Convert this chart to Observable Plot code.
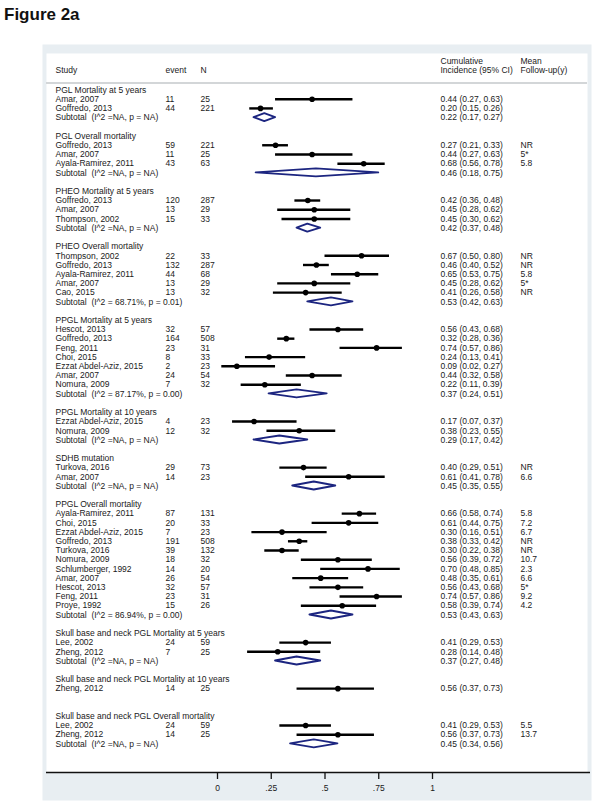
<!DOCTYPE html>
<html>
<head>
<meta charset="utf-8">
<script src="https://cdn.jsdelivr.net/npm/d3@7"></script>
<script src="https://cdn.jsdelivr.net/npm/@observablehq/plot@0.6"></script>
<style>
  html, body { margin: 0; padding: 0; background: #fff; }
  #title { font-family: Arial, "Liberation Sans", sans-serif; font-weight: bold; font-size: 17px; height: 30px; line-height: 30px; padding-left: 4px; color: #111; }
  #chart svg { display: block; }
</style>
</head>
<body>
<div id="title">Figure 2a</div>
<div id="chart"></div>
<script>
// ---------- data ----------
const groupTitles = [
  "PGL Mortality at 5 years",
  "PGL Overall mortality",
  "PHEO Mortality at 5 years",
  "PHEO Overall mortality",
  "PPGL Mortality at 5 years",
  "PPGL Mortality at 10 years",
  "SDHB mutation",
  "PPGL Overall mortality",
  "Skull base and neck PGL Mortality at 5 years",
  "Skull base and neck PGL Mortality at 10 years",
  "Skull base and neck PGL Overall mortality"
];
const studyGroup = [0,0, 1,1,1, 2,2,2, 3,3,3,3,3, 4,4,4,4,4,4,4, 5,5, 6,6, 7,7,7,7,7,7,7,7,7,7,7, 8,8, 9, 10,10];
const studyNames = [
  "Amar, 2007","Goffredo, 2013",
  "Goffredo, 2013","Amar, 2007","Ayala-Ramirez, 2011",
  "Goffredo, 2013","Amar, 2007","Thompson, 2002",
  "Thompson, 2002","Goffredo, 2013","Ayala-Ramirez, 2011","Amar, 2007","Cao, 2015",
  "Hescot, 2013","Goffredo, 2013","Feng, 2011","Choi, 2015","Ezzat Abdel-Aziz, 2015","Amar, 2007","Nomura, 2009",
  "Ezzat Abdel-Aziz, 2015","Nomura, 2009",
  "Turkova, 2016","Amar, 2007",
  "Ayala-Ramirez, 2011","Choi, 2015","Ezzat Abdel-Aziz, 2015","Goffredo, 2013","Turkova, 2016","Nomura, 2009","Schlumberger, 1992","Amar, 2007","Hescot, 2013","Feng, 2011","Proye, 1992",
  "Lee, 2002","Zheng, 2012",
  "Zheng, 2012",
  "Lee, 2002","Zheng, 2012"
];
const events = [11,44, 59,11,43, 120,13,15, 22,132,44,13,13, 32,164,23,8,2,24,7, 4,12, 29,14, 87,20,7,191,39,18,14,26,32,23,15, 24,7, 14, 24,14];
const totals = [25,221, 221,25,63, 287,29,33, 33,287,68,29,32, 57,508,31,33,23,54,32, 23,32, 73,23, 131,33,23,508,132,32,20,54,57,31,26, 59,25, 25, 59,25];
const estimates = [0.44,0.20, 0.27,0.44,0.68, 0.42,0.45,0.45, 0.67,0.46,0.65,0.45,0.41, 0.56,0.32,0.74,0.24,0.09,0.44,0.22, 0.17,0.38, 0.40,0.61, 0.66,0.61,0.30,0.38,0.30,0.56,0.70,0.48,0.56,0.74,0.58, 0.41,0.28, 0.56, 0.41,0.56];
const lowers = [0.27,0.15, 0.21,0.27,0.56, 0.36,0.28,0.30, 0.50,0.40,0.53,0.28,0.26, 0.43,0.28,0.57,0.13,0.02,0.32,0.11, 0.07,0.23, 0.29,0.41, 0.58,0.44,0.16,0.33,0.22,0.39,0.48,0.35,0.43,0.57,0.39, 0.29,0.14, 0.37, 0.29,0.37];
const uppers = [0.63,0.26, 0.33,0.63,0.78, 0.48,0.62,0.62, 0.80,0.52,0.75,0.62,0.58, 0.68,0.36,0.86,0.41,0.27,0.58,0.39, 0.37,0.55, 0.51,0.78, 0.74,0.75,0.51,0.42,0.38,0.72,0.85,0.61,0.68,0.86,0.74, 0.53,0.48, 0.73, 0.53,0.73];
const followUps = ["","", "NR","5*","5.8", "","","", "NR","NR","5.8","5*","NR", "","","","","","","", "","", "NR","6.6", "5.8","7.2","6.7","NR","NR","10.7","2.3","6.6","5*","9.2","4.2", "","", "", "5.5","13.7"];

const subtotalGroup = [0,1,2,3,4,5,6,7,8,10];
const subtotalHet = ["I^2 =NA, p = NA","I^2 =NA, p = NA","I^2 =NA, p = NA","I^2 = 68.71%, p = 0.01","I^2 = 87.17%, p = 0.00","I^2 =NA, p = NA","I^2 =NA, p = NA","I^2 = 86.94%, p = 0.00","I^2 =NA, p = NA","I^2 =NA, p = NA"];
const subtotalEst = [0.22,0.46,0.42,0.53,0.37,0.29,0.45,0.53,0.37,0.45];
const subtotalLo = [0.17,0.18,0.37,0.42,0.24,0.17,0.35,0.43,0.27,0.34];
const subtotalHi = [0.27,0.75,0.48,0.63,0.51,0.42,0.55,0.63,0.48,0.56];

const axisTicks = [0, 0.25, 0.5, 0.75, 1];
const axisTickLabels = ["0", ".25", ".5", ".75", "1"];

// ---------- layout (rows) ----------
const W = 604, H = 780;
const ROW0 = 59.5, PITCH = 9.21;
const rowOf = px => (px - ROW0) / PITCH;

let r = 0;
const groupRow = [], subRowOfGroup = [];
const studyRow = [];
groupTitles.forEach((g, gi) => {
  groupRow.push(r); r++;
  studyGroup.forEach((sg, si) => { if (sg === gi) { studyRow[si] = r; r++; } });
  subRowOfGroup[gi] = r; r++;
  r++;
});

const fmt = v => v.toFixed(2);
const studies = studyNames.map((name, i) => ({
  name, event: String(events[i]), n: String(totals[i]),
  est: estimates[i], lo: lowers[i], hi: uppers[i],
  ci: `${fmt(estimates[i])} (${fmt(lowers[i])}, ${fmt(uppers[i])})`,
  fu: followUps[i], row: studyRow[i]
}));
const groupsData = groupTitles.map((t, i) => ({t, row: groupRow[i]}));
const subtotals = subtotalGroup.map((g, i) => ({
  label: "Subtotal\u00a0\u00a0(" + subtotalHet[i] + ")",
  est: subtotalEst[i], lo: subtotalLo[i], hi: subtotalHi[i],
  ci: `${fmt(subtotalEst[i])} (${fmt(subtotalLo[i])}, ${fmt(subtotalHi[i])})`,
  row: subRowOfGroup[g]
}));
const HALF = 4 / PITCH;
const diamondPts = subtotals.flatMap((s, i) => [
  {k: i, y: s.row - HALF, x1: s.est, x2: s.est},
  {k: i, y: s.row, x1: s.lo, x2: s.hi},
  {k: i, y: s.row + HALF, x1: s.est, x2: s.est}
]);

const headerLineRow = rowOf(52.5);
const axisRow = rowOf(742);
const tickEndRow = rowOf(749);
const tickLabelRow = rowOf(758);
const head1 = rowOf(31), head2 = rowOf(40);

const FONT = 8.5;
const txt = "#1a1a1a";
const col = (data, opts) => Plot.text(data, {frameAnchor: "left", textAnchor: "start", fontSize: FONT, fill: txt, ...opts});

const chart = Plot.plot({
  width: W, height: H,
  marginLeft: 0, marginRight: 0, marginTop: 0, marginBottom: 0,
  style: {fontFamily: "Arial, 'Liberation Sans', sans-serif", background: "transparent"},
  x: {domain: [0, 1], range: [217, 432], axis: null},
  y: {domain: [0, 71], range: [ROW0, ROW0 + 71 * PITCH], axis: null},
  marks: [
    Plot.frame({fill: "#e8eef2", stroke: null, insetLeft: 42, insetRight: 13, insetTop: 14, insetBottom: 10}),
    Plot.frame({fill: "#ffffff", stroke: null, insetLeft: 46, insetRight: 17, insetTop: 23, insetBottom: 38}),
    Plot.ruleY([headerLineRow], {stroke: "#d3d6d8", strokeWidth: 2, insetLeft: 46, insetRight: 17}),
    // header
    col([{t: "Study"}], {y: () => head2, text: "t", dx: 55}),
    col([{t: "event"}], {y: () => head2, text: "t", dx: 165}),
    col([{t: "N"}], {y: () => head2, text: "t", dx: 200}),
    col([{t: "Cumulative"}], {y: () => head1, text: "t", dx: 440}),
    col([{t: "Incidence (95% CI)"}], {y: () => head2, text: "t", dx: 440}),
    col([{t: "Mean"}], {y: () => head1, text: "t", dx: 520}),
    col([{t: "Follow-up(y)"}], {y: () => head2, text: "t", dx: 520}),
    // groups
    col(groupsData, {y: "row", text: "t", dx: 55}),
    // studies
    col(studies, {y: "row", text: "name", dx: 55}),
    col(studies, {y: "row", text: "event", dx: 165}),
    col(studies, {y: "row", text: "n", dx: 200}),
    col(studies, {y: "row", text: "ci", dx: 440}),
    col(studies, {y: "row", text: "fu", dx: 520}),
    Plot.ruleY(studies, {y: "row", x1: "lo", x2: "hi", stroke: "#000", strokeWidth: 2.4}),
    Plot.dot(studies, {x: "est", y: "row", r: 2.8, fill: "#000", stroke: null}),
    // subtotals
    col(subtotals, {y: "row", text: "label", dx: 55}),
    col(subtotals, {y: "row", text: "ci", dx: 440}),
    Plot.areaX(diamondPts, {y: "y", x1: "x1", x2: "x2", z: "k", fill: "#fff", stroke: "#1c2580", strokeWidth: 1.9, curve: "linear"}),
    // axis
    Plot.ruleY([axisRow], {stroke: "#111", strokeWidth: 1.3, insetLeft: 46, insetRight: 14}),
    Plot.ruleX(axisTicks, {x: d => d, y1: () => axisRow, y2: () => tickEndRow, stroke: "#111", strokeWidth: 1.3}),
    Plot.text(axisTicks, {x: d => d, y: () => tickLabelRow, text: (d, i) => axisTickLabels[i], fontSize: FONT, fill: txt})
  ]
});
document.getElementById("chart").append(chart);
</script>
</body>
</html>
